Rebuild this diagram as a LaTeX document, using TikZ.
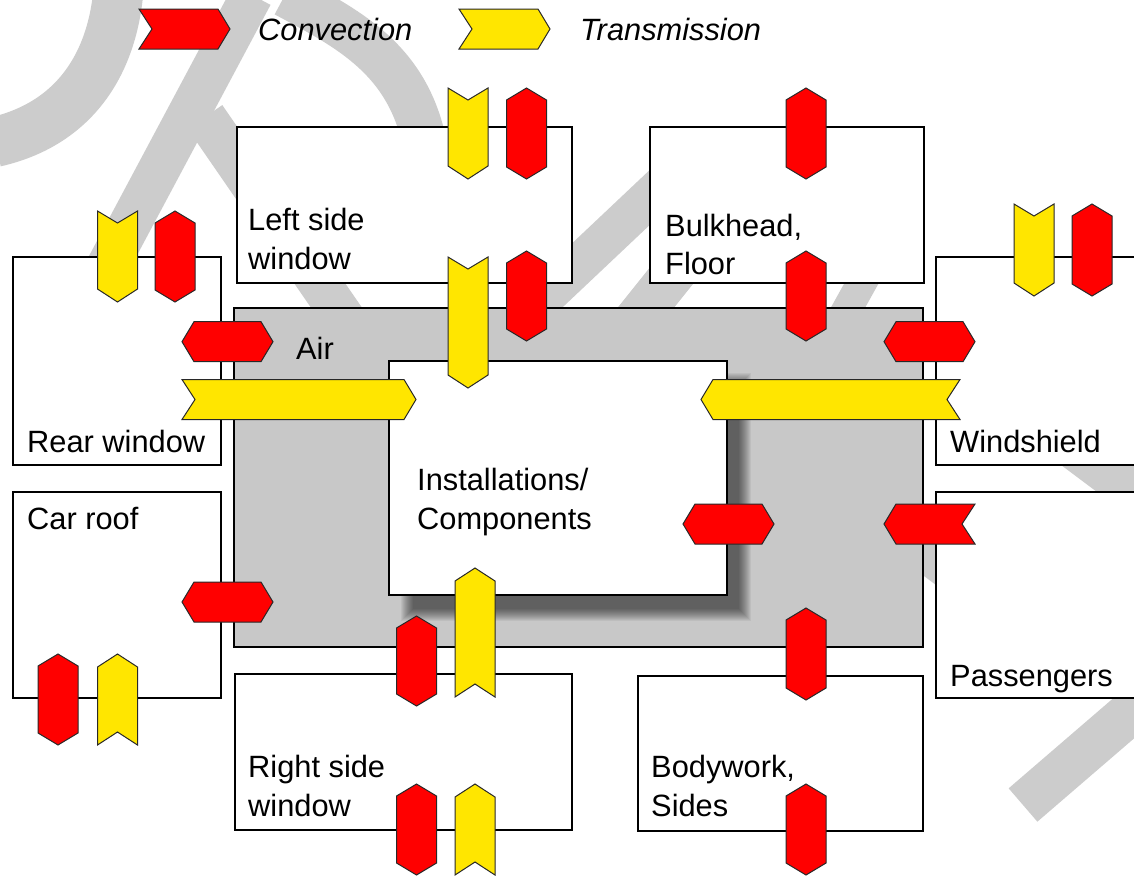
\documentclass[tikz,border=0pt]{standalone}
\usepackage{fontspec}
\setmainfont{Liberation Sans}
\definecolor{wm}{RGB}{204,204,204}
\definecolor{airgray}{RGB}{200,200,200}
\definecolor{convred}{RGB}{255,0,0}
\definecolor{transyel}{RGB}{255,230,0}
\definecolor{outl}{RGB}{40,40,40}
\tikzset{
  box/.style={draw=black, line width=2.2pt, fill=white, inner sep=0pt},
  airbox/.style={draw=black, line width=2.5pt, fill=airgray, inner sep=0pt},
  lbl/.style={anchor=base west, inner sep=0pt, font=\fontsize{30.8}{38}\selectfont},
  conv/.style={draw=outl, line width=1pt, fill=convred, line join=miter},
  trans/.style={draw=outl, line width=1pt, fill=transyel, line join=miter},
  wmark/.style={draw=wm, line width=44pt, line cap=butt}
}
% vertical hexagon: cx, y0, y1
\newcommand\RVh[3]{\draw[conv] ({#1},{#2}) -- ({#1+20},{#2+12}) -- ({#1+20},{#3-12}) -- ({#1},{#3}) -- ({#1-20},{#3-12}) -- ({#1-20},{#2+12}) -- cycle;}
% vertical chevron pointing down: cx, y0, y1
\newcommand\YDn[3]{\draw[trans] ({#1-20},{#2}) -- ({#1},{#2+12}) -- ({#1+20},{#2}) -- ({#1+20},{#3-13}) -- ({#1},{#3}) -- ({#1-20},{#3-13}) -- cycle;}
% vertical chevron pointing up: cx, y0, y1
\newcommand\YUp[3]{\draw[trans] ({#1},{#2}) -- ({#1+20},{#2+13}) -- ({#1+20},{#3}) -- ({#1},{#3-13}) -- ({#1-20},{#3}) -- ({#1-20},{#2+13}) -- cycle;}
% horizontal hexagon: x0, x1, cy
\newcommand\RHh[3]{\draw[conv] ({#1},{#3}) -- ({#1+12},{#3-20}) -- ({#2-12},{#3-20}) -- ({#2},{#3}) -- ({#2-12},{#3+20}) -- ({#1+12},{#3+20}) -- cycle;}
% horizontal chevron pointing right: style, x0, x1, cy
\newcommand\ChR[4]{\draw[#1] ({#2},{#4-20}) -- ({#3-12},{#4-20}) -- ({#3},{#4}) -- ({#3-12},{#4+20}) -- ({#2},{#4+20}) -- ({#2+13},{#4}) -- cycle;}
% horizontal chevron pointing left: style, x0, x1, cy
\newcommand\ChL[4]{\draw[#1] ({#2},{#4}) -- ({#2+12},{#4-20}) -- ({#3},{#4-20}) -- ({#3-13},{#4}) -- ({#3},{#4+20}) -- ({#2+12},{#4+20}) -- cycle;}
\begin{document}
\begin{tikzpicture}[x=1pt, y=-1pt]
\useasboundingbox (0,0) rectangle (1134,876);
\clip (0,0) rectangle (1134,876);
\fill[white] (0,0) rectangle (1134,876);
% watermark
\draw[wmark, line width=50pt] (-5,142) .. controls (70,125) and (110,70) .. (118,-5);
\draw[wmark, line width=42pt] (252,-5) -- (100,280);
\draw[wmark, line width=42pt] (205,117) -- (345,320);
\draw[wmark, line width=44pt] (285,-5) .. controls (360,35) and (430,70) .. (430,200);
\draw[wmark, line width=40pt] (700,150) -- (520,320);
\draw[wmark, line width=44pt] (700,240) -- (620,340);
\draw[wmark, line width=30pt] (880,250) -- (830,340);
\draw[wmark] (1015,403) -- (1215,553);
\draw[wmark] (850,493) -- (1010,613);
\draw[wmark] (1023,805) -- (1160,687);
% boxes
\node[box, minimum width=335, minimum height=156] (lsw) at (404.5,205) {};
\node[box, minimum width=274, minimum height=156] (bulk) at (787,205) {};
\node[box, minimum width=208, minimum height=208] (rear) at (117,361) {};
\node[box, minimum width=214, minimum height=208] (wind) at (1043,361) {};
\node[box, minimum width=208, minimum height=206] (roof) at (117,595) {};
\node[box, minimum width=214, minimum height=206] (pass) at (1043,595) {};
\node[box, minimum width=337, minimum height=156] (rsw) at (403.5,752) {};
\node[box, minimum width=285, minimum height=155] (body) at (780.5,753.5) {};
\node[airbox, minimum width=689, minimum height=339] (air) at (578.5,477.5) {};
% shadow of inner box
\foreach \d in {-6,-5,...,6}{
  \fill[black, opacity=0.05] ({407-\d},{379-\d}) rectangle ({745+\d},{615+\d});
}
\node[box, minimum width=338, minimum height=234] (inst) at (558,478) {};
% labels
\node[lbl] (t1) at (248,230) {Left side};
\node[lbl] (t2) at (248,269) {window};
\node[lbl] (t3) at (665,236) {Bulkhead,};
\node[lbl] (t4) at (665,274) {Floor};
\node[lbl] (t5) at (296,359) {Air};
\node[lbl] (t6) at (27,452) {Rear window};
\node[lbl] (t7) at (950,452) {Windshield};
\node[lbl] (t8) at (417,490) {Installations/};
\node[lbl] (t9) at (417,529) {Components};
\node[lbl] (t10) at (27,529) {Car roof};
\node[lbl] (t11) at (950,686) {Passengers};
\node[lbl] (t12) at (248,777) {Right side};
\node[lbl] (t13) at (248,816) {window};
\node[lbl] (t14) at (651,777) {Bodywork,};
\node[lbl] (t15) at (651,816) {Sides};
% legend
\ChR{conv}{139}{230}{29}
\ChR{trans}{459}{550}{29}
\node[lbl, font=\fontsize{30.8}{38}\selectfont\itshape] (lg1) at (258,40) {Convection};
\node[lbl, font=\fontsize{30.8}{38}\selectfont\itshape] (lg2) at (580,40) {Transmission};
% vertical symbols
\YDn{468}{88}{179}
\RVh{526.5}{88}{179}
\YDn{468}{257}{388}
\RVh{526.5}{251}{341}
\RVh{806}{88}{179}
\RVh{806}{251}{341}
\YDn{117.5}{211}{302}
\RVh{175}{211}{302}
\YDn{1034}{204}{296}
\RVh{1092}{204}{296}
\RVh{58}{654}{745}
\YUp{117.5}{654}{745}
\RVh{416.5}{616}{706}
\YUp{475}{568}{697}
\RVh{806}{608}{700}
\RVh{416.5}{784}{875}
\YUp{475}{784}{875}
\RVh{806}{784}{875}
% horizontal symbols
\RHh{182}{273}{341.7}
\ChR{trans}{182}{416}{399.5}
\RHh{884}{975}{341.7}
\ChL{trans}{701}{960}{399.5}
\RHh{683}{774}{524}
\ChL{conv}{884}{975}{524}
\RHh{182}{273}{602}
\end{tikzpicture}
\end{document}
